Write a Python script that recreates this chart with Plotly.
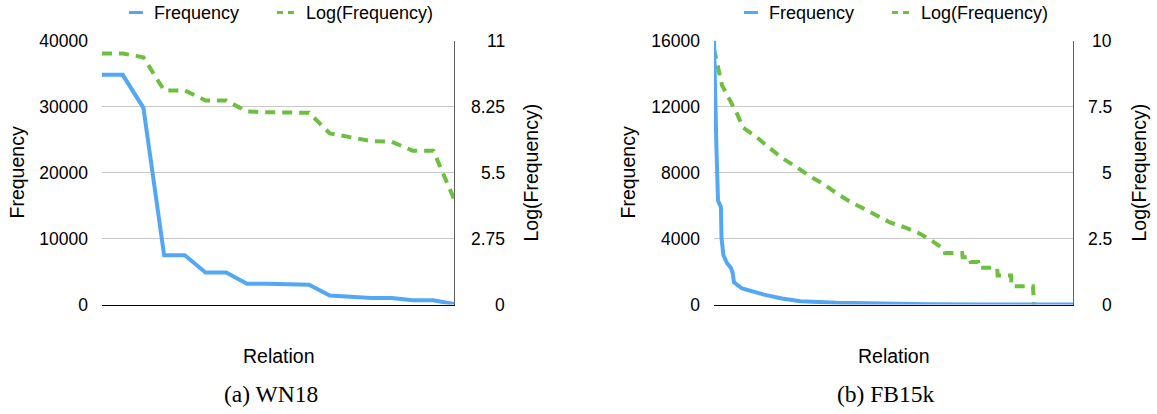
import plotly.graph_objects as go

# ---------------- data ----------------
wn18_relation = list(range(1, 19))
wn18_freq = [34800, 34800, 29800, 7450, 7450, 4850, 4850, 3150, 3150, 3000, 3000,
             1350, 1150, 1000, 1000, 650, 650, 80]
wn18_log = [10.46, 10.46, 10.30, 8.92, 8.92, 8.50, 8.50, 8.04, 8.01, 7.99, 7.99,
            7.13, 6.99, 6.81, 6.78, 6.41, 6.41, 4.40]

fb_freq_rank = [1, 5, 10, 16, 27, 29, 36, 50, 65, 71, 76, 106, 132, 188, 255, 325,
                461, 600, 800, 1000, 1195, 1345]
fb_freq = [15990, 12000, 9550, 6300, 5900, 4070, 3000, 2500, 2200, 1890, 1340, 970,
           850, 600, 365, 200, 110, 60, 15, 5, 2, 1]

fb_log_rank = [1, 16, 31, 61, 87, 110, 162, 211, 259, 312, 360, 409, 461, 510, 559,
               611, 660, 716, 765, 810, 835, 850, 864, 866, 930, 932, 960, 962, 990,
               992, 1061, 1063, 1113, 1115, 1195, 1199]
fb_log = [9.68, 8.98, 8.30, 7.73, 7.23, 6.70, 6.33, 5.91, 5.53, 5.19, 4.85, 4.58, 4.20,
          3.90, 3.64, 3.37, 3.11, 2.92, 2.72, 2.46, 2.30, 2.20, 2.08, 1.95, 1.95, 1.79,
          1.79, 1.61, 1.61, 1.39, 1.39, 1.10, 1.10, 0.69, 0.69, 0]

wn18_freq_ticks = [0, 10000, 20000, 30000, 40000]
wn18_log_ticks = [0, 2.75, 5.5, 8.25, 11]
wn18_log_ticktext = ["0", "2.75", "5.5", "8.25", "11"]
fb_freq_ticks = [0, 4000, 8000, 12000, 16000]
fb_log_ticks = [0, 2.5, 5, 7.5, 10]
fb_log_ticktext = ["0", "2.5", "5", "7.5", "10"]

series_names = ["Frequency", "Log(Frequency)"]
captions = ["(a) WN18", "(b) FB15k"]

# ---------------- style ----------------
W, H = 1157, 414
BLUE = "rgb(83,168,245)"
GREEN = "rgb(109,191,64)"
GRID = "#C8C8C8"
SANS = "Liberation Sans, Arial, Helvetica, sans-serif"
SERIF = "Liberation Serif, Times New Roman, serif"
TICK = 17.5
TITLE = 19.5

# vertical placement calibration (top offset / effective height of the paper)
V_TOP, V_H = 9.5, 394.0


def px(x):
    return x / W


def py(y):
    return 1 - (y - V_TOP) / V_H


fig = go.Figure()

fig.add_trace(go.Scatter(x=wn18_relation, y=wn18_log, xaxis="x", yaxis="y",
                         mode="lines", name=series_names[1], showlegend=False,
                         line=dict(color=GREEN, width=4, dash="10px,7px")))
fig.add_trace(go.Scatter(x=wn18_relation, y=wn18_freq, xaxis="x", yaxis="y2",
                         mode="lines", name=series_names[0], showlegend=False,
                         line=dict(color=BLUE, width=4)))
fig.add_trace(go.Scatter(x=fb_log_rank, y=fb_log, xaxis="x2", yaxis="y3",
                         mode="lines", name=series_names[1], showlegend=False,
                         line=dict(color=GREEN, width=4, dash="10px,7px")))
fig.add_trace(go.Scatter(x=fb_freq_rank, y=fb_freq, xaxis="x2", yaxis="y4",
                         mode="lines", name=series_names[0], showlegend=False,
                         line=dict(color=BLUE, width=4)))

panels = [
    dict(x0=102, x1=454, n=len(wn18_relation), fticks=wn18_freq_ticks,
         lticks=wn18_log_ticks, ltext=wn18_log_ticktext, frange=[0, 40000],
         lrange=[0, 11], rlab=507, ytl=16, ytr=530, cx=279, capx=271),
    dict(x0=714, x1=1073, n=fb_freq_rank[-1], fticks=fb_freq_ticks,
         lticks=fb_log_ticks, ltext=fb_log_ticktext, frange=[0, 16000],
         lrange=[0, 10], rlab=1114, ytl=627, ytr=1138, cx=894, capx=886),
]

Y_TOP, Y_BOT = 40, 304
layout = dict(width=W, height=H, margin=dict(l=0, r=0, t=0, b=0),
              paper_bgcolor="white", plot_bgcolor="white", showlegend=False,
              font=dict(family=SANS, color="black", size=TICK))

annotations = []
shapes = []
for i, p in enumerate(panels):
    xa = "xaxis" if i == 0 else "xaxis2"
    xname = "x" if i == 0 else "x2"
    ylog = "yaxis" if i == 0 else "yaxis3"
    ylog_name = "y" if i == 0 else "y3"
    yfreq = "yaxis2" if i == 0 else "yaxis4"
    layout[xa] = dict(domain=[px(p["x0"]), px(p["x1"])], range=[1, p["n"]],
                      anchor=ylog_name, showline=True, linecolor="black", linewidth=1,
                      showgrid=False, zeroline=False, showticklabels=False, ticks="",
                      layer="below traces")
    layout[ylog] = dict(domain=[py(Y_BOT), py(Y_TOP)], range=p["lrange"], anchor=xname,
                        side="right", showline=True, linecolor="#5F5F5F", linewidth=1.2,
                        showgrid=False, zeroline=False, showticklabels=False, ticks="",
                        layer="below traces")
    layout[yfreq] = dict(overlaying=ylog_name, anchor=xname, side="left",
                         range=p["frange"], tickmode="array", tickvals=p["fticks"],
                         tickformat="d", showgrid=True, gridcolor=GRID, gridwidth=1,
                         showline=False, zeroline=False, ticks="",
                         ticklabelstandoff=13, tickfont=dict(size=TICK),
                         layer="below traces")
    for v, t in zip(p["lticks"], p["ltext"]):
        annotations.append(dict(x=px(p["rlab"]), xref="paper", xanchor="right",
                                y=v, yref=ylog_name, yanchor="middle", text=t,
                                showarrow=False, font=dict(size=TICK)))
    ymid = py((Y_TOP + Y_BOT) / 2)
    annotations.append(dict(x=px(p["ytl"]), y=ymid, xref="paper", yref="paper",
                            text="Frequency", textangle=-90, showarrow=False,
                            xanchor="center", yanchor="middle", font=dict(size=TITLE)))
    annotations.append(dict(x=px(p["ytr"]), y=ymid, xref="paper", yref="paper",
                            text="Log(Frequency)", textangle=-90, showarrow=False,
                            xanchor="center", yanchor="middle", font=dict(size=TITLE)))
    annotations.append(dict(x=px(p["cx"]), y=py(355), xref="paper", yref="paper",
                            text="Relation", showarrow=False, xanchor="center",
                            yanchor="middle", font=dict(size=TITLE)))
    annotations.append(dict(x=px(p["capx"]), y=py(393), xref="paper", yref="paper",
                            text=captions[i], showarrow=False, xanchor="center",
                            yanchor="middle", font=dict(size=23.5, family=SERIF)))
    off = 0 if i == 0 else 615
    shapes.append(dict(type="line", xref="paper", yref="paper",
                       x0=px(129 + off), x1=px(143 + off), y0=py(12), y1=py(12),
                       line=dict(color=BLUE, width=3)))
    shapes.append(dict(type="line", xref="paper", yref="paper",
                       x0=px(277 + off), x1=px(294 + off), y0=py(12), y1=py(12),
                       line=dict(color=GREEN, width=3, dash="6px,5px")))
    annotations.append(dict(x=px(152 + off), y=py(12), xref="paper", yref="paper",
                            text=series_names[0], showarrow=False, xanchor="left",
                            yanchor="middle", font=dict(size=18)))
    annotations.append(dict(x=px(304 + off), y=py(12), xref="paper", yref="paper",
                            text=series_names[1], showarrow=False, xanchor="left",
                            yanchor="middle", font=dict(size=18)))

layout["annotations"] = annotations
layout["shapes"] = shapes
fig.update_layout(**layout)

fig.write_html("out.html", config={"responsive": False, "displayModeBar": False},
               post_script="document.body.style.margin='0';"
                           "document.body.style.overflow='hidden';")
